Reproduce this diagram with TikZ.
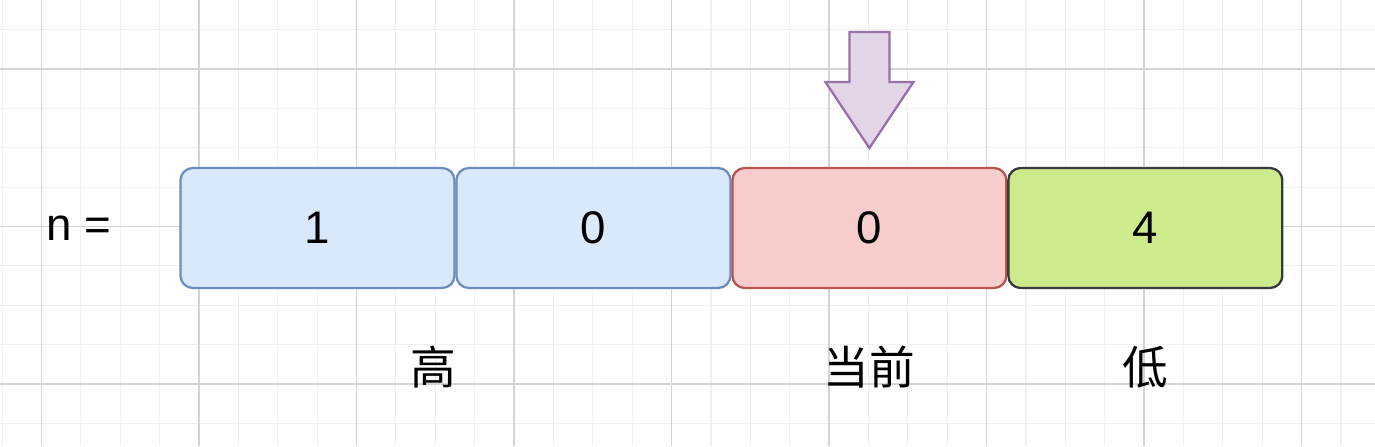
\documentclass[tikz,border=0pt]{standalone}
\usepackage{fontspec}
\setmainfont{Liberation Sans}
\newfontfamily\cjk{Noto Sans CJK SC}
\usetikzlibrary{positioning}

\definecolor{blueline}{HTML}{6C8EBF}
\definecolor{bluefill}{HTML}{DAE8FC}
\definecolor{redline}{HTML}{B85450}
\definecolor{redfill}{HTML}{F8CECC}
\definecolor{greenline}{HTML}{36393D}
\definecolor{greenfill}{HTML}{CDEB8B}
\definecolor{purpleline}{HTML}{9673A6}
\definecolor{purplefill}{HTML}{E1D5E7}

\begin{document}
\begin{tikzpicture}[
  x=0.02cm, y=-0.02cm,
  minorline/.style={draw=black!6, line width=0.7pt},
  majorline/.style={draw=black!17, line width=0.8pt},
  digit/.style={shape=rectangle, rounded corners=7pt, line width=1.3pt,
    minimum width=5.48cm, minimum height=2.4cm, inner sep=0pt, outer sep=0pt,
    font=\fontsize{26}{30}\selectfont},
  lbl/.style={font=\cjk\fontsize{26}{30}\selectfont, inner sep=0pt}
  ]
  \useasboundingbox[fill=white] (0,0) rectangle (1375,446);
  % grid
  \foreach \i in {-1,...,33}
    \draw[minorline] ({41.5+39.375*\i},0) -- ++(0,446);
  \foreach \j in {-1,...,9}
    \draw[minorline] (0,{69+39.375*\j}) -- ++(1375,0);
  \foreach \i in {0,...,8}
    \draw[majorline] ({41.5+157.5*\i},0) -- ++(0,446);
  \foreach \j in {0,...,2}
    \draw[majorline] (0,{69+157.5*\j}) -- ++(1375,0);

  % number cells
  \node[digit, draw=blueline, fill=bluefill] (one) at (317.5,228) {1};
  \node[digit, draw=blueline, fill=bluefill, right=0.04cm of one] (two) {0};
  \node[digit, draw=redline, fill=redfill, right=0.04cm of two] (cur) {0};
  \node[digit, draw=greenline, fill=greenfill, right=0.04cm of cur] (low) {4};
  \node[font=\fontsize{26}{30}\selectfont, inner sep=0pt] (n) at (79,228) {n =};

  % pointer
  \coordinate[above=0.4cm of cur.north] (tip);
  \draw[draw=purpleline, fill=purplefill, line width=1.3pt, line join=miter]
    (tip) -- ++(-44,-66) -- ++(24,0) -- ++(0,-50) -- ++(40,0)
    -- ++(0,50) -- ++(24,0) -- cycle;

  % labels
  \node[lbl] (hi) at (433,367) {高};
  \node[lbl] (now) at (cur |- hi) {当前};
  \node[lbl] (lo) at (low |- hi) {低};
\end{tikzpicture}
\end{document}
